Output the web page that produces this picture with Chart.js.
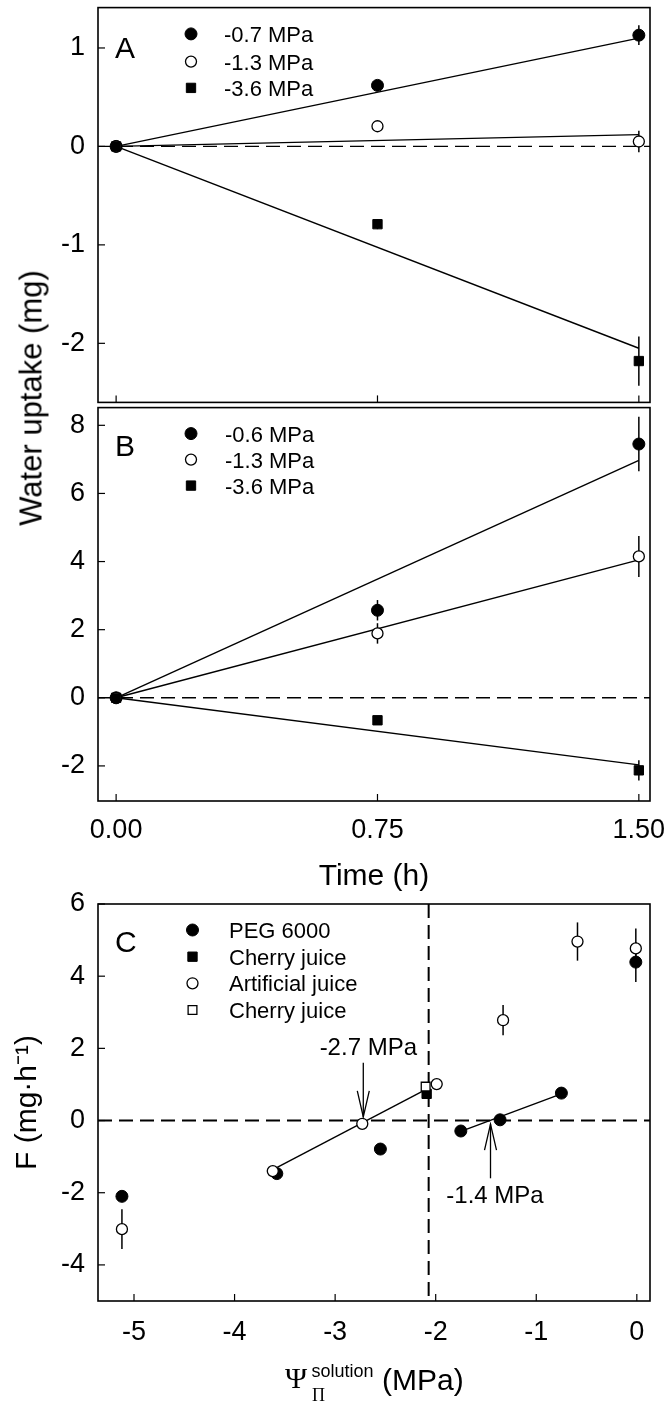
<!DOCTYPE html>
<html><head><meta charset="utf-8">
<script src="https://cdn.jsdelivr.net/npm/chart.js@4/dist/chart.umd.min.js"></script>
<style>
html,body{margin:0;padding:0;background:#fff;}
body{width:668px;height:1403px;position:relative;overflow:hidden;}
canvas{position:absolute;left:0;}
#ytitle{position:absolute;left:31px;top:398px;transform:translate(-50%,-50%) rotate(-90deg);font:31px 'Liberation Sans',Arial,sans-serif;white-space:nowrap;line-height:1;color:#000;}
</style></head><body>
<canvas id="cA" width="668" height="410" style="top:0px"></canvas>
<canvas id="cB" width="668" height="500" style="top:400px"></canvas>
<canvas id="cC" width="668" height="523" style="top:880px"></canvas>
<div id="ytitle">Water uptake (mg)</div>
<script>
// ---------------- DATA ----------------
const timeH = [0, 0.75, 1.5];
const timeTicks = [0, 0.75, 1.5];
const timeTickLabels = ['0.00', '0.75', '1.50'];

// Panel A
const aLabels = ['-0.7 MPa', '-1.3 MPa', '-3.6 MPa'];
const aY07 = [0, 0.62, 1.13];
const aErr07 = [0, 0.04, 0.10];
const aY13 = [0, 0.205, 0.05];
const aErr13 = [0, 0, 0.11];
const aY36 = [0, -0.79, -2.18];
const aErr36 = [0, 0.05, 0.25];
const aFitX = [0, 1.5];
const aFit07 = [0, 1.10];
const aFit13 = [0, 0.12];
const aFit36 = [0, -2.05];
const aYTicks = [-2, -1, 0, 1];

// Panel B
const bLabels = ['-0.6 MPa', '-1.3 MPa', '-3.6 MPa'];
const bY06 = [0, 2.57, 7.45];
const bErr06 = [0, 0.3, 0.8];
const bY13 = [0, 1.89, 4.15];
const bErr13 = [0, 0.3, 0.6];
const bY36 = [0, -0.66, -2.13];
const bErr36 = [0, 0.06, 0.3];
const bFitX = [0, 1.5];
const bFit06 = [0, 6.97];
const bFit13 = [0, 4.05];
const bFit36 = [0, -1.97];
const bYTicks = [-2, 0, 2, 4, 6, 8];

// Panel C
const cLabels = ['PEG 6000', 'Cherry juice', 'Artificial juice', 'Cherry juice'];
const pegX = [-5.12, -3.58, -2.55, -1.75, -1.36, -0.75, -0.01];
const pegY = [-2.1, -1.47, -0.79, -0.29, 0.02, 0.76, 4.39];
const pegErr = [0.15, 0.08, 0, 0, 0, 0, 0.55];
const cherryX = [-2.09];
const cherryY = [0.74];
const artX = [-5.12, -3.62, -2.73, -1.99, -1.33, -0.59, -0.01];
const artY = [-3.01, -1.40, -0.09, 1.01, 2.78, 4.96, 4.77];
const artErr = [0.55, 0, 0, 0, 0.42, 0.53, 0.55];
const cherryOpenX = [-2.1];
const cherryOpenY = [0.94];
const fitArtX = [-3.6, -2.1];
const fitArtY = [-1.33, 0.86];
const fitPegX = [-1.75, -0.75];
const fitPegY = [-0.3, 0.74];
const cXTicks = [-5, -4, -3, -2, -1, 0];
const cYTicks = [-4, -2, 0, 2, 4, 6];
const cVLineX = -2.07;
const arrowX = [-2.72, -1.455];
const arrowFrom = [1.6, -1.6];
const arrowTo = [0.1, -0.1];
const arrowLabels = ['-2.7 MPa', '-1.4 MPa'];
const arrowLabelX = [-2.67, -1.41];
const arrowLabelY = [2.0, -2.11];

// ---------------- HELPERS ----------------
const FONT = "'Liberation Sans', Arial, sans-serif";
Chart.defaults.font.family = FONT;
Chart.defaults.color = '#000';

const pts = (xs, ys) => xs.map((x, i) => ({x: x, y: ys[i]}));

const STY = {
  fc: {pointStyle: 'circle', pointRadius: 6, backgroundColor: '#000', borderColor: '#000', pointBorderWidth: 1},
  oc: {pointStyle: 'circle', pointRadius: 5.5, backgroundColor: '#fff', borderColor: '#000', pointBorderWidth: 1.3},
  fs: {pointStyle: 'rect', pointRadius: 6.6, backgroundColor: '#000', borderColor: '#000', pointBorderWidth: 1},
  os: {pointStyle: 'rect', pointRadius: 6.2, backgroundColor: '#fff', borderColor: '#000', pointBorderWidth: 1.3}
};
function markerDs(label, data, sty, err, order) {
  return Object.assign({label: label, data: data, showLine: false, order: order, errorBars: err,
    pointHoverRadius: sty.pointRadius}, sty);
}
function lineDs(data) {
  return {label: '', data: data, showLine: true, borderColor: '#000', borderWidth: 1.4,
    pointRadius: 0, pointHoverRadius: 0, order: 20, isFit: true};
}

const decor = {
  id: 'decor',
  beforeDatasetsDraw(chart, args, o) {
    const ctx = chart.ctx, ca = chart.chartArea, xs = chart.scales.x, ys = chart.scales.y;
    ctx.save();
    ctx.strokeStyle = '#000';
    (o.hDash || []).forEach(d => {
      const y = ys.getPixelForValue(d.v);
      ctx.lineWidth = d.w; ctx.setLineDash(d.dash);
      ctx.beginPath(); ctx.moveTo(ca.left, y); ctx.lineTo(ca.right, y); ctx.stroke();
    });
    (o.vDash || []).forEach(d => {
      const x = xs.getPixelForValue(d.v);
      ctx.lineWidth = d.w; ctx.setLineDash(d.dash);
      ctx.beginPath(); ctx.moveTo(x, ca.top); ctx.lineTo(x, ca.bottom); ctx.stroke();
    });
    ctx.setLineDash([]);
    ctx.lineWidth = 1.5;
    chart.data.datasets.forEach(ds => {
      if (!ds.errorBars) return;
      ds.data.forEach((p, i) => {
        const e = ds.errorBars[i];
        if (!e) return;
        const x = xs.getPixelForValue(p.x);
        ctx.beginPath();
        ctx.moveTo(x, ys.getPixelForValue(p.y - e));
        ctx.lineTo(x, ys.getPixelForValue(p.y + e));
        ctx.stroke();
      });
    });
    ctx.restore();
  },
  afterDraw(chart, args, o) {
    const ctx = chart.ctx, ca = chart.chartArea, xs = chart.scales.x, ys = chart.scales.y;
    ctx.save();
    ctx.strokeStyle = '#000'; ctx.fillStyle = '#000';
    ctx.lineWidth = 1.6;
    ctx.strokeRect(ca.left, ca.top, ca.right - ca.left, ca.bottom - ca.top);
    ctx.lineWidth = 1.2;
    xs.ticks.forEach(t => {
      const x = xs.getPixelForValue(t.value);
      ctx.beginPath(); ctx.moveTo(x, ca.bottom); ctx.lineTo(x, ca.bottom - 7); ctx.stroke();
    });
    ys.ticks.forEach(t => {
      const y = ys.getPixelForValue(t.value);
      ctx.beginPath(); ctx.moveTo(ca.left, y); ctx.lineTo(ca.left + 7, y); ctx.stroke();
    });
    if (o.letter) {
      ctx.font = '30px ' + FONT;
      ctx.textAlign = 'left'; ctx.textBaseline = 'alphabetic';
      ctx.fillText(o.letter, ca.left + 17, ca.top + o.letterDy);
    }
    if (o.legend) {
      const L = o.legend;
      L.items.forEach((it, k) => {
        const ds = chart.data.datasets[it];
        const y = ca.top + L.rows[k];
        ctx.fillStyle = ds.backgroundColor; ctx.strokeStyle = ds.borderColor;
        ctx.lineWidth = ds.pointBorderWidth;
        Chart.helpers.drawPoint(ctx, {pointStyle: ds.pointStyle, radius: ds.pointRadius, rotation: 0,
          borderWidth: ds.pointBorderWidth}, ca.left + L.mx, y);
        ctx.fillStyle = '#000';
        ctx.font = '22px ' + FONT;
        ctx.textAlign = 'left'; ctx.textBaseline = 'alphabetic';
        ctx.fillText(ds.label, ca.left + L.tx, y + 8);
      });
    }
    (o.arrows || []).forEach(a => {
      const x = xs.getPixelForValue(a.x);
      const y1 = ys.getPixelForValue(a.from), y2 = ys.getPixelForValue(a.to);
      const dir = y2 > y1 ? 1 : -1;
      ctx.strokeStyle = '#000'; ctx.lineWidth = 1.3;
      ctx.beginPath(); ctx.moveTo(x, y1); ctx.lineTo(x, y2); ctx.stroke();
      ctx.beginPath();
      ctx.moveTo(x - 6, y2 - dir * 26); ctx.lineTo(x, y2); ctx.lineTo(x + 6, y2 - dir * 26);
      ctx.stroke();
      ctx.fillStyle = '#000';
      ctx.font = '24px ' + FONT;
      ctx.textAlign = 'center'; ctx.textBaseline = 'middle';
      ctx.fillText(a.label, xs.getPixelForValue(a.lx), ys.getPixelForValue(a.ly));
    });
    if (o.psi) {
      const oy = o.psi.oy;
      ctx.fillStyle = '#000'; ctx.textAlign = 'left'; ctx.textBaseline = 'alphabetic';
      ctx.font = "30px 'Liberation Serif', 'DejaVu Serif', serif";
      ctx.fillText('\u03A8', 285, 1388 - oy);
      ctx.font = '18px ' + FONT;
      ctx.fillText('solution', 311.5, 1377 - oy);
      ctx.font = "18px 'Liberation Serif', 'DejaVu Serif', serif";
      ctx.fillText('\u03A0', 312, 1401 - oy);
      ctx.font = '30px ' + FONT;
      ctx.fillText('(MPa)', 382, 1390 - oy);
    }
    ctx.restore();
  }
};

function noPad(s) { s.paddingTop = 0; s.paddingBottom = 0; s.paddingLeft = 0; s.paddingRight = 0; }
function yAxis(min, max, tickVals, title) {
  const ax = {
    type: 'linear', min: min, max: max,
    afterBuildTicks: s => { s.ticks = tickVals.map(v => ({value: v})); },
    afterFit: s => { s.width = 98; noPad(s); },
    grid: {display: false, drawTicks: false}, border: {display: false},
    ticks: {font: {size: 27}, color: '#000', padding: 13, autoSkip: false}
  };
  if (title) ax.title = {display: true, text: title, font: {size: 30}, color: '#000', padding: {top: 10, bottom: 0}};
  return ax;
}
function xAxis(min, max, tickVals, labels, height, showLabels, pad, title) {
  const ax = {
    type: 'linear', min: min, max: max,
    afterBuildTicks: s => { s.ticks = tickVals.map(v => ({value: v})); },
    afterFit: s => { s.height = height; noPad(s); },
    grid: {display: false, drawTicks: false}, border: {display: false},
    ticks: {display: showLabels, font: {size: 27}, color: '#000', padding: pad, maxRotation: 0, autoSkip: false,
      callback: v => labels ? labels[tickVals.indexOf(v)] : String(v)}
  };
  if (title) ax.title = {display: true, text: title, font: {size: 30}, color: '#000', padding: {top: 0, bottom: 5}};
  return ax;
}
function baseOpts(padding, scales, decorOpts) {
  return {
    responsive: false, animation: false, devicePixelRatio: 1,
    layout: {padding: padding},
    scales: scales,
    plugins: {legend: {display: false}, tooltip: {enabled: false}, decor: decorOpts},
    events: []
  };
}
const dashAB = {v: 0, w: 1.4, dash: [14, 7]};

// ---------------- PANEL A ----------------
new Chart(document.getElementById('cA'), {
  type: 'scatter',
  data: {datasets: [
    markerDs(aLabels[0], pts(timeH, aY07), STY.fc, aErr07, 3),
    markerDs(aLabels[1], pts(timeH, aY13), STY.oc, aErr13, 2),
    markerDs(aLabels[2], pts(timeH, aY36), STY.fs, aErr36, 1),
    lineDs(pts(aFitX, aFit07)), lineDs(pts(aFitX, aFit13)), lineDs(pts(aFitX, aFit36))
  ]},
  options: baseOpts({top: 7, right: 18, bottom: 6, left: 0}, {
    x: xAxis(-0.052, 1.532, timeTicks, timeTickLabels, 0, false, 0, null),
    y: yAxis(-2.6, 1.41, aYTicks, null)
  }, {hDash: [dashAB], letter: 'A', letterDy: 50,
      legend: {items: [0, 1, 2], rows: [26.3, 54, 80.3], mx: 93, tx: 126}}),
  plugins: [decor]
});

// ---------------- PANEL B ----------------
new Chart(document.getElementById('cB'), {
  type: 'scatter',
  data: {datasets: [
    markerDs(bLabels[0], pts(timeH, bY06), STY.fc, bErr06, 3),
    markerDs(bLabels[1], pts(timeH, bY13), STY.oc, bErr13, 2),
    markerDs(bLabels[2], pts(timeH, bY36), STY.fs, bErr36, 1),
    lineDs(pts(bFitX, bFit06)), lineDs(pts(bFitX, bFit13)), lineDs(pts(bFitX, bFit36))
  ]},
  options: baseOpts({top: 4, right: 18, bottom: 0, left: 0}, {
    x: xAxis(-0.052, 1.532, timeTicks, timeTickLabels, 99, true, 13, 'Time (h)'),
    y: yAxis(-3.03, 8.52, bYTicks, null)
  }, {hDash: [dashAB], letter: 'B', letterDy: 48,
      legend: {items: [0, 1, 2], rows: [26, 52, 78], mx: 93, tx: 127}}),
  plugins: [decor]
});

// ---------------- PANEL C ----------------
new Chart(document.getElementById('cC'), {
  type: 'scatter',
  data: {datasets: [
    markerDs(cLabels[0], pts(pegX, pegY), STY.fc, pegErr, 4),
    markerDs(cLabels[1], pts(cherryX, cherryY), STY.fs, null, 3),
    markerDs(cLabels[2], pts(artX, artY), STY.oc, artErr, 2),
    markerDs(cLabels[3], pts(cherryOpenX, cherryOpenY), STY.os, null, 1),
    lineDs(pts(fitArtX, fitArtY)), lineDs(pts(fitPegX, fitPegY))
  ]},
  options: baseOpts({top: 24, right: 18, bottom: 0, left: 0}, {
    x: xAxis(-5.358, 0.131, cXTicks, null, 102, true, 15, null),
    y: yAxis(-5, 6, cYTicks, 'F (mg\u00B7h\u207B\u00B9)')
  }, {hDash: [{v: 0, w: 2, dash: [14, 7]}], vDash: [{v: cVLineX, w: 2, dash: [14, 7]}],
      letter: 'C', letterDy: 47.7,
      legend: {items: [0, 1, 2, 3], rows: [26, 52.7, 79.3, 106], mx: 94.5, tx: 131},
      arrows: arrowX.map((x, i) => ({x: x, from: arrowFrom[i], to: arrowTo[i], label: arrowLabels[i],
        lx: arrowLabelX[i], ly: arrowLabelY[i]})),
      psi: {oy: 880}}),
  plugins: [decor]
});
</script>
</body></html>
